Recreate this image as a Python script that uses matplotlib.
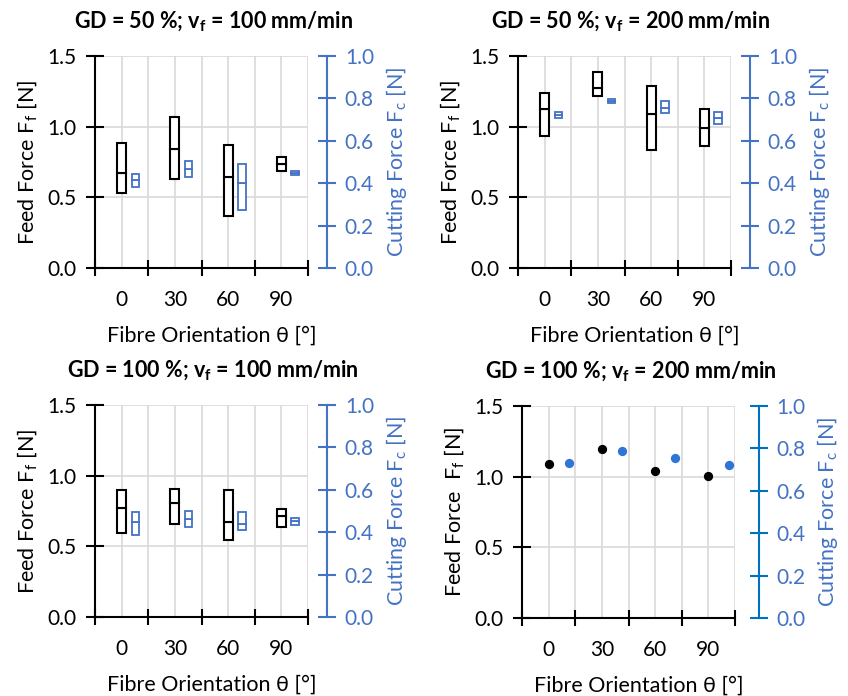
import numpy as np
import matplotlib
matplotlib.use("Agg")
import matplotlib.pyplot as plt

plt.rcParams['font.family'] = ['Lato', 'DejaVu Sans']
plt.rcParams['mathtext.fontset'] = 'custom'
plt.rcParams['mathtext.rm'] = 'Lato'
plt.rcParams['mathtext.bf'] = 'Lato:bold'

# fibre orientation categories
angles = ['0', '30', '60', '90']

# feed force / cutting force boxes [N]: bottom, middle, top
ff_gd50_v100_low = [0.533, 0.632, 0.366, 0.689]
ff_gd50_v100_mid = [0.672, 0.844, 0.642, 0.738]
ff_gd50_v100_high = [0.884, 1.066, 0.873, 0.785]
fc_gd50_v100_low = [0.381, 0.427, 0.272, 0.440]
fc_gd50_v100_mid = [0.416, 0.466, 0.401, 0.449]
fc_gd50_v100_high = [0.444, 0.503, 0.491, 0.458]

ff_gd50_v200_low = [0.934, 1.215, 0.835, 0.863]
ff_gd50_v200_mid = [1.123, 1.276, 1.092, 0.993]
ff_gd50_v200_high = [1.241, 1.389, 1.285, 1.123]
fc_gd50_v200_low = [0.707, 0.777, 0.729, 0.680]
fc_gd50_v200_mid = [0.721, 0.788, 0.757, 0.707]
fc_gd50_v200_high = [0.735, 0.799, 0.786, 0.737]

ff_gd100_v100_low = [0.593, 0.661, 0.545, 0.635]
ff_gd100_v100_mid = [0.774, 0.809, 0.670, 0.717]
ff_gd100_v100_high = [0.896, 0.905, 0.896, 0.764]
fc_gd100_v100_low = [0.387, 0.423, 0.409, 0.435]
fc_gd100_v100_mid = [0.450, 0.463, 0.441, 0.454]
fc_gd100_v100_high = [0.494, 0.498, 0.494, 0.469]

# GD = 100 %, vf = 200 mm/min: single values
ff_gd100_v200 = [1.089, 1.199, 1.039, 1.006]
fc_gd100_v200 = [0.729, 0.787, 0.756, 0.723]

BLUE = '#4472C4'
GRID = '#D9D9D9'
TICK_FS = 15
LABEL_FS = 15.5

fig = plt.figure(figsize=(8.48, 6.96), dpi=100)

def px_axes(l, r, t, b):
    W, H = 848, 696
    return fig.add_axes([l / W, 1 - b / H, (r - l) / W, (b - t) / H])

def setup(ax, title, ylabel, spine_col, offset, title_x, xlab_x):
    ax.set_xlim(-0.5, 3.5)
    ax.set_ylim(0, 1.5)
    ax.set_yticks([0, 0.5, 1.0, 1.5])
    ax.set_yticklabels(['0.0', '0.5', '1.0', '1.5'])
    ax.set_xticks([-0.5, 0.5, 1.5, 2.5, 3.5])
    ax.set_xticklabels([])
    ax.set_xticks(range(4), minor=True)
    ax.set_xticklabels(angles, minor=True)
    ax.tick_params(axis='x', which='minor', length=0, pad=16, labelsize=TICK_FS)
    ax.tick_params(axis='x', which='major', direction='inout', length=12, width=1.5)
    ax.tick_params(axis='y', direction='inout', length=13, width=1.5, pad=7,
                   labelsize=TICK_FS)
    for g in np.arange(-0.5, 3.6, 0.5):
        ax.axvline(g, color=GRID, lw=1.2, zorder=0)
    for g in [0.5, 1.0, 1.5]:
        ax.axhline(g, color=GRID, lw=1.2, zorder=0)
    ax.spines['top'].set_visible(False)
    ax.spines['right'].set_visible(False)
    ax.spines['left'].set_linewidth(1.5)
    ax.spines['bottom'].set_linewidth(1.5)
    ax.set_title(title, fontsize=15.5, fontweight='bold', pad=20, x=title_x)
    ax.set_xlabel('Fibre Orientation θ [°]', fontsize=LABEL_FS, labelpad=11)
    ax.xaxis.label.set_x(xlab_x)
    ax.set_ylabel(ylabel, fontsize=LABEL_FS, labelpad=5)

    tw = ax.twinx()
    tw.set_ylim(0, 1.0)
    tw.set_yticks([0, 0.2, 0.4, 0.6, 0.8, 1.0])
    tw.set_yticklabels(['0.0', '0.2', '0.4', '0.6', '0.8', '1.0'])
    for s in ['top', 'left', 'bottom']:
        tw.spines[s].set_visible(False)
    tw.spines['right'].set_position(('outward', offset))
    tw.spines['right'].set_color(spine_col)
    tw.spines['right'].set_linewidth(1.5)
    tw.tick_params(axis='y', direction='inout', length=13, width=1.5,
                   color=spine_col, pad=6, labelsize=TICK_FS, labelcolor=BLUE)
    tw.set_ylabel('Cutting Force F$_\\mathregular{c}$ [N]', fontsize=LABEL_FS,
                  color=BLUE, labelpad=7)
    return tw

def boxes(ax, x, low, mid, high, color, width, lw):
    low, mid, high = np.array(low), np.array(mid), np.array(high)
    ax.bar(x, mid - low, bottom=low, width=width, facecolor='white',
           edgecolor=color, linewidth=lw, zorder=3)
    ax.bar(x, high - mid, bottom=mid, width=width, facecolor='white',
           edgecolor=color, linewidth=lw, zorder=3)

xs = np.arange(4)
panels = [
    (px_axes(95, 308, 56, 268), 'GD = 50 %; v$_\\mathbf{f}$ = 100 mm/min',
     (ff_gd50_v100_low, ff_gd50_v100_mid, ff_gd50_v100_high),
     (fc_gd50_v100_low, fc_gd50_v100_mid, fc_gd50_v100_high), 0.555, 0.55),
    (px_axes(518, 731, 56, 268), 'GD = 50 %; v$_\\mathbf{f}$ = 200 mm/min',
     (ff_gd50_v200_low, ff_gd50_v200_mid, ff_gd50_v200_high),
     (fc_gd50_v200_low, fc_gd50_v200_mid, fc_gd50_v200_high), 0.53, 0.55),
    (px_axes(95, 308, 405, 617), 'GD = 100 %; v$_\\mathbf{f}$ = 100 mm/min',
     (ff_gd100_v100_low, ff_gd100_v100_mid, ff_gd100_v100_high),
     (fc_gd100_v100_low, fc_gd100_v100_mid, fc_gd100_v100_high), 0.555, 0.55),
]

for ax, title, ff, fc, tx, lx in panels:
    tw = setup(ax, title, 'Feed Force F$_\\mathregular{f}$ [N]', BLUE, 14, tx, lx)
    boxes(ax, xs, *ff, color='black', width=0.17, lw=1.5)
    boxes(tw, xs + 0.26, *fc, color=BLUE, width=0.14, lw=1.3)

# last panel: mean values only
ax4 = px_axes(522, 735, 406, 618)
tw4 = setup(ax4, 'GD = 100 %; v$_\\mathbf{f}$ = 200 mm/min',
            'Feed Force  F$_\\mathregular{f}$ [N]', '#0070C0', 17, 0.51, 0.55)
ax4.scatter(xs, ff_gd100_v200, s=32, color='black', zorder=3)
tw4.scatter(xs + 0.38, fc_gd100_v200, s=32, color='#2E75D6', zorder=3)

fig.savefig('out.png', dpi=100)
